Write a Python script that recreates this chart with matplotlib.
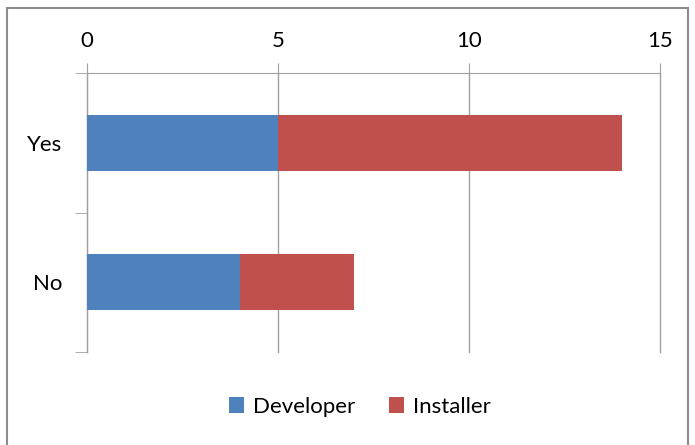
import matplotlib.pyplot as plt
from matplotlib.patches import Rectangle

categories = ["Yes", "No"]
developer = [5, 4]
installer = [9, 3]
xticks = [0, 5, 10, 15]

plt.rcParams['font.family'] = ['Lato', 'DejaVu Sans']

fig = plt.figure(figsize=(6.95, 4.45), dpi=100)
ax = fig.add_axes([87 / 695, 1 - 352 / 445, 573 / 695, 279 / 445])

ypos = [1, 0]
ax.barh(ypos, developer, height=0.4, color='#4F81BD', label='Developer', zorder=3)
ax.barh(ypos, installer, left=developer, height=0.4, color='#C0504D', label='Installer', zorder=3)

ax.set_xlim(0, 15)
ax.set_ylim(-0.5, 1.5)
ax.xaxis.tick_top()
ax.set_xticks(xticks)
ax.set_xticklabels([str(t) for t in xticks], fontsize=16)
ax.tick_params(axis='x', length=7, color='#A0A0A0', pad=9)
ax.grid(axis='x', color='#A0A0A0', lw=1, zorder=0)
for gl in ax.get_xgridlines():
    gl.set_clip_on(False)

ax.set_yticks(ypos)
ax.set_yticklabels(categories, fontsize=16)
ax.set_yticks([-0.5, 0.5, 1.5], minor=True)
ax.tick_params(axis='y', which='major', length=0, pad=18)
ax.tick_params(axis='y', which='minor', length=9, color='#A0A0A0')

for s in ['right', 'bottom']:
    ax.spines[s].set_visible(False)
for s in ['left', 'top']:
    ax.spines[s].set_color('#A0A0A0')

fig.legend(loc='center', bbox_to_anchor=(360 / 695, 1 - 407 / 445), ncol=2, frameon=False,
           fontsize=16, handlelength=0.7, handleheight=0.7, handletextpad=0.4, columnspacing=1.5)

fig.patches.append(Rectangle((7 / 695, -0.05), 681 / 695, 1 - 8 / 445 + 0.05,
                             transform=fig.transFigure, fill=False, ec='#8C8C8C', lw=1.5))

fig.savefig('out.png', dpi=100)
